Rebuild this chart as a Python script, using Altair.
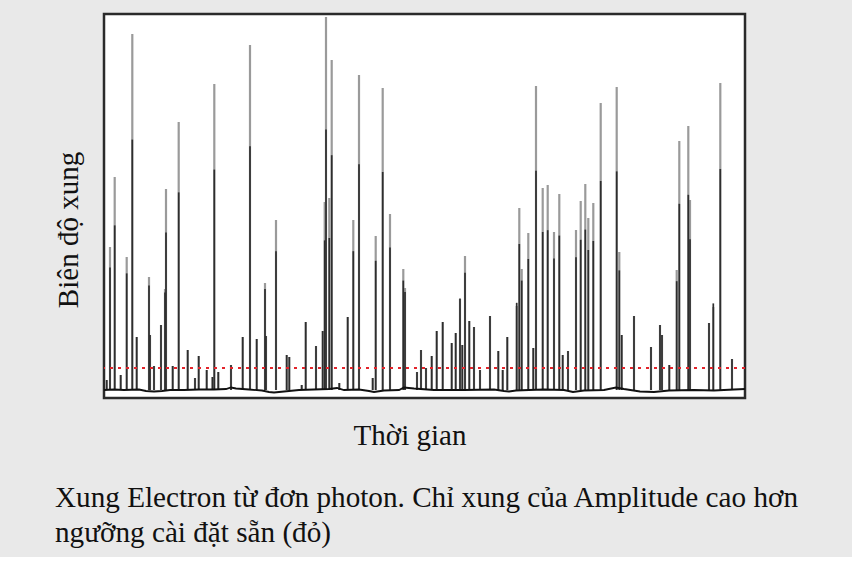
import altair as alt
import pandas as pd

# Pulse positions (time units) and peak amplitudes (arbitrary units)
pulse_time = [2.7, 6, 10.7, 16.7, 22.7, 28.3, 32.7, 45, 46, 50, 57, 61, 62, 68.7, 74.7,
              83.7, 91, 94.7, 102.7, 108.5, 110.3, 114.3, 127, 138.7, 146, 152.7, 161, 162,
              172, 182.7, 185.3, 197.7, 201.7, 212, 218.7, 220.7, 222, 225.3, 227.7, 235.3,
              243.7, 249.3, 255, 268.7, 271.7, 278.7, 286, 299.3, 301, 313, 317, 322, 327.7,
              332.7, 338.7, 347.7, 351.7, 356, 358.3, 361, 365.3, 370, 376, 386, 394.3, 398.7,
              403.3, 412.7, 415.3, 417.7, 424.3, 429.3, 432, 438.7, 443.7, 450, 455.3, 458.7,
              464, 472, 476.7, 481.3, 484.3, 489.3, 496.7, 512.7, 515.3, 517.7, 530, 547, 556,
              558, 565.3, 572.7, 575.3, 584.3, 586, 605, 609.3, 616.3, 628]
pulse_amp = [18, 151, 221, 23, 141, 364, 61, 121, 63, 32, 73, 109, 209, 32, 276,
             48, 20, 42, 28, 21, 314, 26, 33, 61, 353, 59, 115, 62,
             178, 43, 41, 13, 76, 52, 67, 196, 381, 200, 338, 15,
             81, 178, 323, 20, 162, 310, 184, 129, 110, 26, 48, 30, 42,
             67, 76, 55, 65, 99, 53, 142, 77, 71, 28, 82, 47, 28,
             61, 92, 190, 129, 165, 50, 312, 210, 213, 166, 204, 43,
             47, 168, 197, 214, 180, 195, 295, 311, 146, 63, 82, 51, 73,
             63, 33, 128, 257, 272, 198, 75, 91, 315, 39]
pulse_base = 8

# Wavy baseline of the signal
base_time = [0, 10, 20, 35, 42, 50, 58, 66, 80, 95, 110, 122, 127, 132, 145, 158, 165, 170,
             180, 195, 210, 225, 233, 240, 255, 265, 270, 280, 295, 300, 310, 330, 360, 390,
             400, 405, 412, 425, 440, 460, 469, 480, 500, 512, 520, 536, 550, 565, 590, 610,
             630, 641]
base_amp = [8, 8.5, 8, 8.5, 7, 6.5, 7, 8, 8, 8.5, 8.5, 9, 10.5, 9.5, 8.5, 7.5, 6, 5.5,
            6.5, 8, 8.5, 9, 10, 8, 8.5, 7, 6, 7.5, 8, 10.5, 9.5, 8, 8, 8.5,
            7, 6.5, 7.5, 8, 8.5, 8, 6, 7.5, 8, 10.5, 9, 6.5, 6, 7.5, 8, 7.5,
            8.5, 9]

threshold = [30]

x_title = "Thời gian"
y_title = "Biên độ xung"
caption_lines = ["Xung Electron từ đơn photon. Chỉ xung của Amplitude cao hơn",
                 "ngưỡng cài đặt sẵn (đỏ)"]

FONT = "Liberation Serif"

pulses = pd.DataFrame({"t": pulse_time, "amp": pulse_amp, "base": [pulse_base] * len(pulse_time)})
baseline = pd.DataFrame({"t": base_time, "amp": base_amp})
thr = pd.DataFrame({"thr": threshold})

xscale = alt.Scale(domain=[0, 641], nice=False, zero=False)
yscale = alt.Scale(domain=[0, 384], nice=False, zero=False)

pulse_light = alt.Chart(pulses).mark_rule(color="#9a9a9a", strokeWidth=2.2).encode(
    x=alt.X("t:Q", scale=xscale, axis=None),
    y=alt.Y("amp:Q", scale=yscale, axis=None),
    y2="base:Q",
)

pulse_dark = alt.Chart(pulses).transform_calculate(
    core="datum.amp < 90 ? datum.amp : 0.6 * datum.amp + 40"
).mark_rule(color="#2e2e2e", strokeWidth=1.7).encode(
    x=alt.X("t:Q", scale=xscale, axis=None),
    y=alt.Y("core:Q", scale=yscale, axis=None),
    y2="base:Q",
)

base_line = alt.Chart(baseline).mark_line(color="#111111", strokeWidth=1.8).encode(
    x=alt.X("t:Q", scale=xscale, axis=None),
    y=alt.Y("amp:Q", scale=yscale, axis=None),
)

thr_line = alt.Chart(thr).mark_rule(color="#e3242b", strokeDash=[3, 5], strokeWidth=2).encode(
    y=alt.Y("thr:Q", scale=yscale, axis=None),
)

xt = alt.Chart(pd.DataFrame({"s": [x_title]})).mark_text(
    font=FONT, fontSize=29, color="#111111", align="center", baseline="alphabetic"
).encode(text="s:N", x=alt.value(306), y=alt.value(431))

yt = alt.Chart(pd.DataFrame({"s": [y_title]})).mark_text(
    font=FONT, fontSize=29, color="#111111", align="center", baseline="alphabetic", angle=270
).encode(text="s:N", x=alt.value(-26), y=alt.value(216))

cap1 = alt.Chart(pd.DataFrame({"s": [caption_lines[0]]})).mark_text(
    font=FONT, fontSize=29.2, color="#111111", align="left", baseline="alphabetic"
).encode(text="s:N", x=alt.value(-49), y=alt.value(493))

cap2 = alt.Chart(pd.DataFrame({"s": [caption_lines[1]]})).mark_text(
    font=FONT, fontSize=29.2, color="#111111", align="left", baseline="alphabetic"
).encode(text="s:N", x=alt.value(-49), y=alt.value(528))

chart = alt.layer(pulse_light, pulse_dark, base_line, thr_line, xt, yt, cap1, cap2).properties(
    width=641,
    height=384,
    background="#e9e9e9",
    padding={"left": 104, "top": 14, "right": 107, "bottom": 159},
    autosize=alt.AutoSizeParams(type="none"),
).configure_view(stroke="#2a2a2a", strokeWidth=2.5, fill="white")

chart.save("out.html", embed_options={"renderer": "svg", "actions": False})
